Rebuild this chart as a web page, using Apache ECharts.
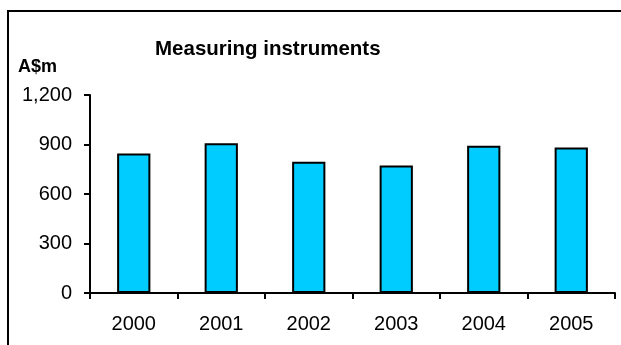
<!DOCTYPE html>
<html>
<head>
<meta charset="utf-8">
<style>
html,body{margin:0;padding:0;background:#fff;}
#chart{width:621px;height:345px;}
</style>
<script src="https://cdn.jsdelivr.net/npm/echarts@6/dist/echarts.min.js"></script>
</head>
<body>
<div id="chart"></div>
<script>
var categories = ['2000', '2001', '2002', '2003', '2004', '2005'];
var values = [845, 908, 795, 772, 892, 882];
var yTicks = [0, 300, 600, 900, 1200];
var titleText = 'Measuring instruments';
var unitText = 'A$m';

var chart = echarts.init(document.getElementById('chart'), null, {renderer: 'canvas'});
var font = 'Liberation Sans, Arial, sans-serif';
chart.setOption({
  animation: false,
  backgroundColor: '#fff',
  title: {
    text: titleText,
    left: 150,
    top: 34,
    textStyle: {fontFamily: font, fontSize: 20.5, fontWeight: 'bold', color: '#000'}
  },
  graphic: [
    {type: 'rect', shape: {x: 8, y: 11, width: 800, height: 600}, style: {fill: 'none', stroke: '#000', lineWidth: 2}, silent: true},
    {type: 'text', left: 18, top: 58, style: {text: unitText, fontFamily: font, fontSize: 18, fontWeight: 'bold', fill: '#000'}}
  ],
  grid: {left: 90, right: 6, top: 95, bottom: 52, containLabel: false},
  xAxis: {
    type: 'category',
    data: categories,
    boundaryGap: true,
    axisLine: {lineStyle: {color: '#000', width: 2}},
    axisTick: {show: true, length: 6, lineStyle: {color: '#000', width: 2}},
    axisLabel: {color: '#000', fontFamily: font, fontSize: 20, margin: 21}
  },
  yAxis: {
    type: 'value',
    min: yTicks[0],
    max: yTicks[yTicks.length - 1],
    interval: yTicks[1] - yTicks[0],
    splitLine: {show: false},
    axisLine: {show: true, lineStyle: {color: '#000', width: 2}},
    axisTick: {show: true, length: 6, lineStyle: {color: '#000', width: 2}},
    axisLabel: {
      color: '#000', fontFamily: font, fontSize: 20, margin: 18,
      formatter: function (v) { return v.toLocaleString('en-US'); }
    }
  },
  series: [{
    type: 'bar',
    data: values,
    barWidth: '38%',
    itemStyle: {color: '#00CCFF', borderColor: '#000', borderWidth: 2}
  }]
});
</script>
</body>
</html>
